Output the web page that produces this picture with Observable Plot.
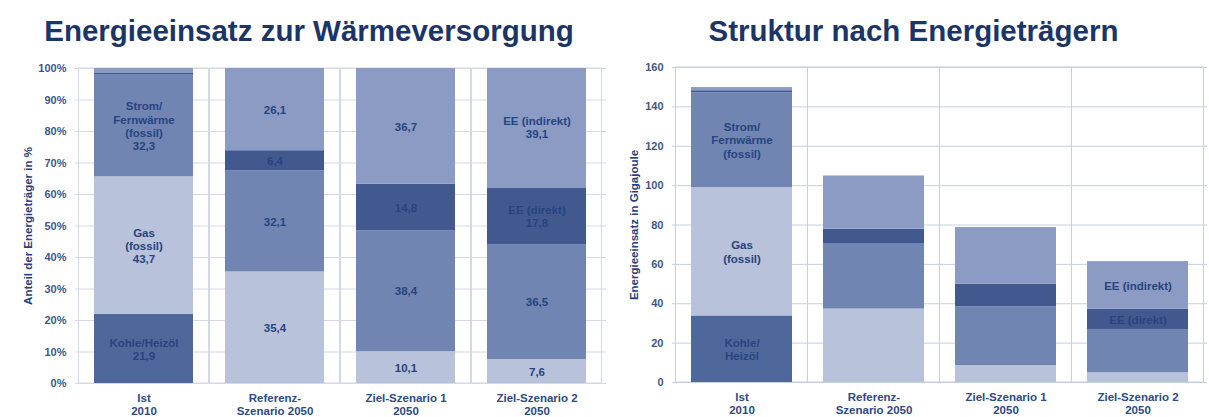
<!DOCTYPE html>
<html><head><meta charset="utf-8">
<script src="https://cdn.jsdelivr.net/npm/d3@7"></script>
<script src="https://cdn.jsdelivr.net/npm/@observablehq/plot@0.6"></script>
<style>
body{margin:0;background:#fff;font-family:"Liberation Sans",Arial,sans-serif;}
#wrap{display:flex;width:1209px;height:417px;overflow:hidden;}
.col{display:flex;flex-direction:column;}
.title{height:55px;line-height:62px;text-align:center;font-weight:bold;font-size:29.5px;color:#1c3567;white-space:nowrap;}
svg{display:block;}
</style></head><body>
<div id="wrap">
  <div class="col" id="left" style="width:606px"><div class="title" style="padding-left:12px">Energieeinsatz zur Wärmeversorgung</div></div>
  <div class="col" id="right" style="width:603px"><div class="title" style="padding-left:12px">Struktur nach Energieträgern</div></div>
</div>
<script>
// Categories (x axis tick labels, two lines)
const categories = ["Ist\n2010", "Referenz-\nSzenario 2050", "Ziel-Szenario 1\n2050", "Ziel-Szenario 2\n2050"];
// Energy carriers, stacked bottom to top
const carriers = ["Kohle/Heizöl", "Gas (fossil)", "Strom/Fernwärme (fossil)", "EE (direkt)", "EE (indirekt)"];
const carrierColors = ["#4f689c", "#b8c2da", "#7185b3", "#42598f", "#8b9bc3"];

// Left chart: share in %
const kohleShare      = [21.9, 0, 0, 0];
const gasShare        = [43.7, 35.4, 10.1, 7.6];
const stromShare      = [32.3, 32.1, 38.4, 36.5];
const eeDirektShare   = [0.7, 6.4, 14.8, 17.8];
const eeIndirektShare = [1.4, 26.1, 36.7, 39.1];

// Right chart: energy use in gigajoule
const kohleGJ      = [33.8, 0, 0, 0];
const gasGJ        = [65.2, 37.3, 8.5, 5.0];
const stromGJ      = [48.2, 33.3, 29.9, 21.6];
const eeDirektGJ   = [1.0, 7.3, 11.5, 10.7];
const eeIndirektGJ = [1.6, 27.0, 28.8, 24.1];

// Segment name labels (category index, carrier) -> text
const leftNames = [
  [0, "Kohle/Heizöl", "Kohle/Heizöl"],
  [0, "Gas (fossil)", "Gas\n(fossil)"],
  [0, "Strom/Fernwärme (fossil)", "Strom/\nFernwärme\n(fossil)"],
  [3, "EE (direkt)", "EE (direkt)"],
  [3, "EE (indirekt)", "EE (indirekt)"]
];
const rightNames = [
  [0, "Kohle/Heizöl", "Kohle/\nHeizöl"],
  [0, "Gas (fossil)", "Gas\n(fossil)"],
  [0, "Strom/Fernwärme (fossil)", "Strom/\nFernwärme\n(fossil)"],
  [3, "EE (direkt)", "EE (direkt)"],
  [3, "EE (indirekt)", "EE (indirekt)"]
];

const leftTicks = [0, 10, 20, 30, 40, 50, 60, 70, 80, 90, 100];
const rightTicks = [0, 20, 40, 60, 80, 100, 120, 140, 160];

const leftSeries = [kohleShare, gasShare, stromShare, eeDirektShare, eeIndirektShare];
const rightSeries = [kohleGJ, gasGJ, stromGJ, eeDirektGJ, eeIndirektGJ];

const fmt = v => String(v.toFixed(1)).replace(".", ",");

function rows(series, names, showValues) {
  const out = [];
  carriers.forEach((c, ci) => {
    categories.forEach((cat, i) => {
      const v = series[ci][i];
      const n = names.find(d => d[0] === i && d[1] === c);
      let label = "";
      if (v >= 2) {
        const parts = [];
        if (n) parts.push(n[2]);
        if (showValues) parts.push(fmt(v));
        label = parts.join("\n");
      }
      out.push({cat, carrier: c, value: v, label});
    });
  });
  return out;
}

const leftData = rows(leftSeries, leftNames, true);
const rightData = rows(rightSeries, rightNames, false);

const textColor = "#274480";

function chart({data, width, marginLeft, marginRight, marginTop, marginBottom, domain, ticks, tickFormat, label, labelOffset, pIn, pOut, gridColor}) {
  return Plot.plot({
    width, height: 362,
    marginLeft, marginRight, marginTop, marginBottom,
    style: {fontFamily: "Liberation Sans, Arial, sans-serif", fontSize: "11px", color: textColor, background: "transparent"},
    x: {domain: categories, paddingInner: pIn, paddingOuter: pOut, align: 0.5},
    y: {domain},
    color: {domain: carriers, range: carrierColors},
    marks: [
      Plot.ruleY(ticks, {stroke: gridColor, strokeWidth: 1}),
      Plot.barY(categories, {x: d => d, y1: domain[0], y2: domain[1], fill: "none", stroke: gridColor, insetLeft: -15.5, insetRight: -15.5}),
      Plot.barY(data, {x: "cat", y: "value", fill: "carrier", order: carriers, clip: true}),
      Plot.text(data, Plot.stackY({x: "cat", y: "value", z: "carrier", order: carriers, text: "label", fill: "#27447f", fontSize: 11.5, lineHeight: 1.15, fontWeight: "bold"})),
      Plot.axisY({ticks, tickFormat, tickSize: 0, tickPadding: 9, fontWeight: "bold", fontSize: 11, fill: "#3f5688", label: null}),
      Plot.text([label], {frameAnchor: "left", textAnchor: "middle", rotate: -90, dx: -labelOffset, text: d => d, fontWeight: "bold", fontSize: 11.5, fill: "#23407c"}),
      Plot.axisX({tickSize: 0, tickPadding: 9, fontWeight: "bold", fontSize: 11.5, fill: "#2d4a84", label: null, lineHeight: 1.12})
    ]
  });
}

document.getElementById("left").appendChild(chart({
  data: leftData, width: 606, marginLeft: 75, marginRight: 0, marginTop: 13, marginBottom: 34,
  domain: [0, 100], ticks: leftTicks, tickFormat: d => d + "%",
  label: "Anteil der Energieträger in %", labelOffset: 47, pIn: 0.242, pOut: 0.136, gridColor: "#d3d9e8"
}));
document.getElementById("right").appendChild(chart({
  data: rightData, width: 603, marginLeft: 66, marginRight: 2, marginTop: 12, marginBottom: 35,
  domain: [0, 160], ticks: rightTicks, tickFormat: d => String(d),
  label: "Energieeinsatz in Gigajoule", labelOffset: 38, pIn: 0.233, pOut: 0.128, gridColor: "#c6cee2"
}));
</script>
</body></html>
